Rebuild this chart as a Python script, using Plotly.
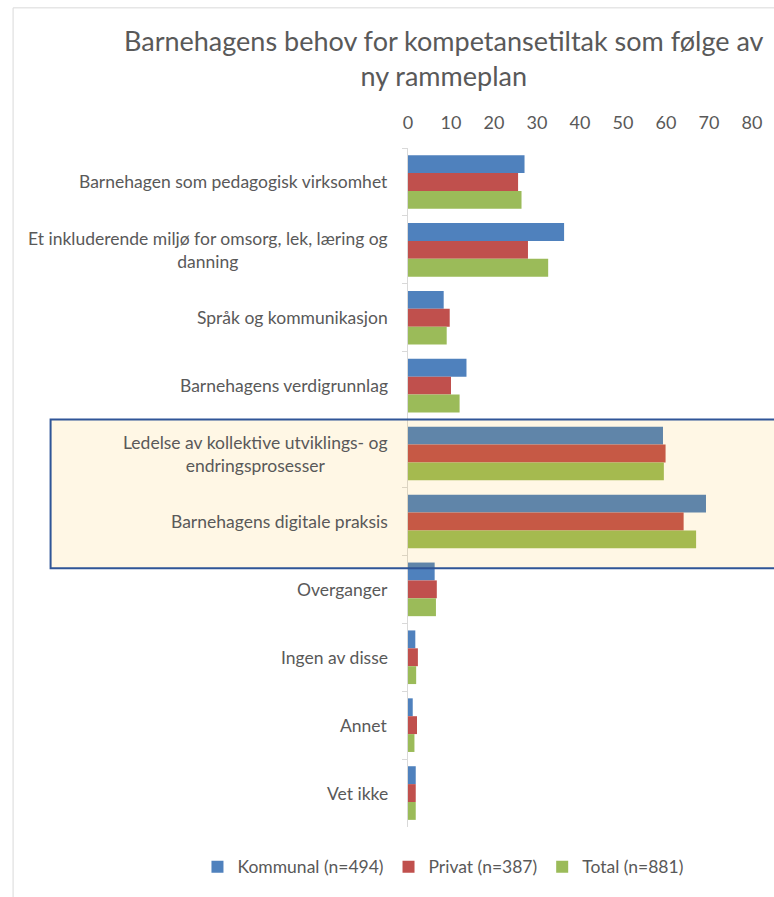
import plotly.graph_objects as go

categories = [
    "Barnehagen som pedagogisk virksomhet",
    "Et inkluderende miljø for omsorg, lek, læring og<br>danning",
    "Språk og kommunikasjon",
    "Barnehagens verdigrunnlag",
    "Ledelse av kollektive utviklings- og<br>endringsprosesser",
    "Barnehagens digitale praksis",
    "Overganger",
    "Ingen av disse",
    "Annet",
    "Vet ikke",
]
kommunal = [27.1, 36.3, 8.3, 13.6, 59.3, 69.3, 6.2, 1.7, 1.1, 1.8]
privat = [25.6, 27.9, 9.7, 10.0, 59.9, 64.1, 6.7, 2.3, 2.1, 1.8]
total = [26.4, 32.6, 9.0, 12.0, 59.5, 67.0, 6.5, 1.9, 1.5, 1.8]
series_names = ["Kommunal (n=494)", "Privat (n=387)", "Total (n=881)"]
colors = ["#4F81BD", "#C0504D", "#9BBB59"]
x_ticks = [0, 10, 20, 30, 40, 50, 60, 70, 80]
title = "Barnehagens behov for kompetansetiltak som følge av<br>ny rammeplan"

FONT = "Lato"
GREY = "#595959"

fig = go.Figure()
for name, vals, col in zip(series_names, [kommunal, privat, total], colors):
    fig.add_trace(go.Bar(
        y=categories, x=vals, name=name, orientation="h",
        marker=dict(color=col, line=dict(width=0)),
    ))

fig.update_layout(
    width=774, height=897,
    margin=dict(l=408, r=18, t=148, b=66),
    paper_bgcolor="white", plot_bgcolor="white",
    barmode="group", bargap=0.21, bargroupgap=0,
    font=dict(family=FONT, color=GREY),
    showlegend=True,
    legend=dict(
        orientation="h", x=-0.612, xanchor="left",
        y=-0.0586, yanchor="middle",
        font=dict(size=17.5, color=GREY, family=FONT), itemwidth=30,
        traceorder="normal", bgcolor="rgba(0,0,0,0)",
    ),
    xaxis=dict(
        side="top", range=[0, 80], tickvals=x_ticks, showgrid=False,
        zeroline=False, showline=False, ticks="",
        tickfont=dict(size=18, color=GREY, family=FONT), ticklabelstandoff=14,
    ),
    yaxis=dict(
        autorange="reversed", showticklabels=False, showgrid=False,
        showline=True, linecolor="#D9D9D9", linewidth=1,
        ticks="outside", ticklen=5, tickcolor="#D9D9D9", tickson="boundaries",
        zeroline=False,
    ),
)

for cat in categories:
    fig.add_annotation(
        xref="paper", yref="y", x=0, y=cat, xshift=-18, xanchor="right",
        yanchor="middle", align="center", text=cat, showarrow=False,
        font=dict(size=17.5, color=GREY, family=FONT),
    )

fig.add_annotation(
    xref="paper", yref="paper", x=0.1034, y=1.1328, xanchor="center",
    yanchor="middle", align="center", text=title, showarrow=False,
    font=dict(size=27, color=GREY, family=FONT),
)

# chart border
fig.add_shape(type="rect", xref="paper", yref="paper",
              x0=-1.148, x1=1.3, y0=-0.2, y1=1.2064,
              line=dict(color="#D9D9D9", width=1), fillcolor="rgba(0,0,0,0)", layer="below")
# highlight box
fig.add_shape(type="rect", xref="paper", yref="y",
              x0=-1.039, x1=1.3, y0=3.5, y1=5.69,
              line=dict(color="#2F5597", width=2), fillcolor="rgba(255,175,0,0.1)", layer="above")

fig.write_html(
    "out.html",
    config={"displayModeBar": False},
    post_script="document.body.style.margin='0';document.documentElement.style.overflow='hidden';",
)
